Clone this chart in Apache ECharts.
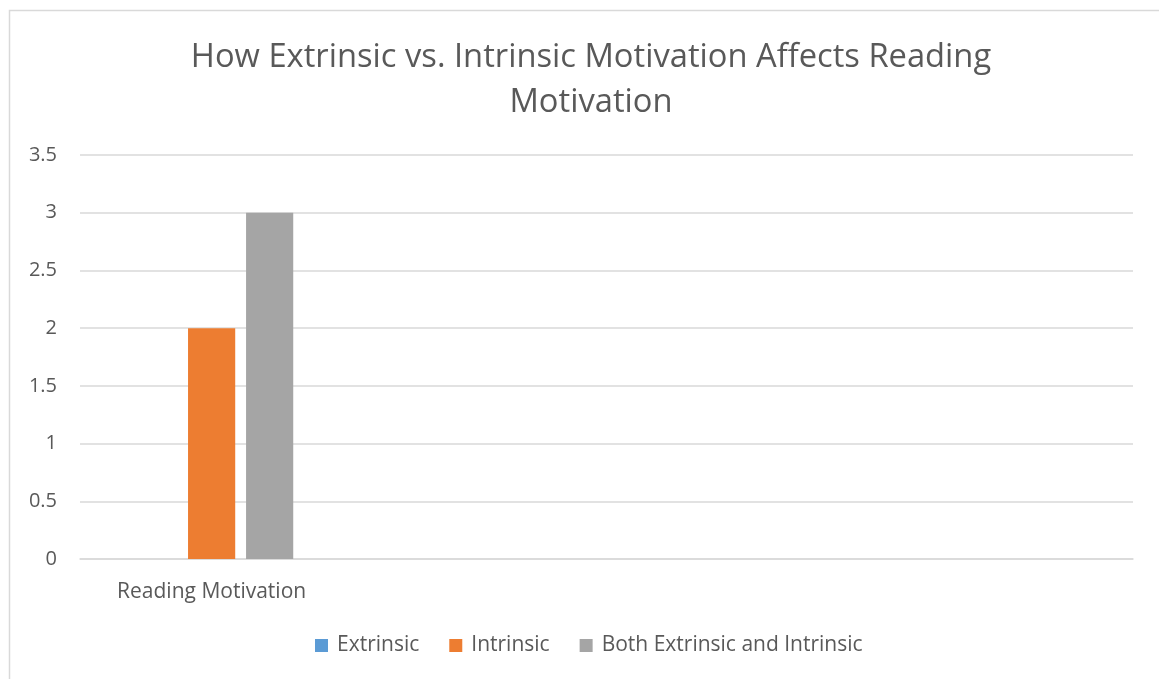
<!DOCTYPE html>
<html>
<head>
<meta charset="utf-8">
<script src="https://cdn.jsdelivr.net/npm/echarts@6/dist/echarts.min.js"></script>
<style>
  html, body { margin: 0; padding: 0; background: #fff; }
  #chart { width: 1159px; height: 679px; }
</style>
</head>
<body>
<div id="chart"></div>
<script>
// Chart data
const categories = ['Reading Motivation', '', '', ''];
const seriesNames = ['Extrinsic', 'Intrinsic', 'Both Extrinsic and Intrinsic'];
const extrinsic = [0, null, null, null];
const intrinsic = [2, null, null, null];
const both = [3, null, null, null];
const yTicks = { min: 0, max: 3.5, interval: 0.5 };

const colors = ['#5b9bd5', '#ed7d31', '#a5a5a5'];
const textColor = '#595959';
const fontFamily = '"Open Sans", "Liberation Sans", sans-serif';

const chart = echarts.init(document.getElementById('chart'));
chart.setOption({
  animation: false,
  color: colors,
  textStyle: { fontFamily: fontFamily, color: textColor },
  graphic: [{
    type: 'rect',
    shape: { x: 9.5, y: 10.5, width: 1200, height: 700 },
    style: { fill: 'none', stroke: '#d9d9d9', lineWidth: 1.5 },
    silent: true
  }],
  title: {
    text: 'How Extrinsic vs. Intrinsic Motivation Affects Reading\nMotivation',
    left: 586,
    textAlign: 'center',
    top: 30,
    textStyle: {
      fontFamily: fontFamily,
      fontWeight: 'normal',
      fontSize: 32.7,
      lineHeight: 45,
      color: textColor
    }
  },
  legend: {
    bottom: 18,
    left: 310,
    itemWidth: 13,
    itemHeight: 13,
    itemGap: 30,
    icon: 'rect',
    textStyle: { fontSize: 21, color: textColor, fontFamily: fontFamily, padding: [0, 0, 0, 4] },
    data: seriesNames
  },
  grid: { left: 80, right: 26, top: 155, bottom: 120, containLabel: false },
  xAxis: {
    type: 'category',
    data: categories,
    axisLine: { lineStyle: { color: '#d9d9d9', width: 1.5 } },
    axisTick: { show: false },
    axisLabel: { fontSize: 21, color: textColor, margin: 23, interval: 0 }
  },
  yAxis: {
    type: 'value',
    min: yTicks.min,
    max: yTicks.max,
    interval: yTicks.interval,
    axisLine: { show: false },
    axisTick: { show: false },
    splitLine: { lineStyle: { color: '#d9d9d9', width: 1.5 } },
    axisLabel: { fontSize: 20, color: textColor, margin: 23 }
  },
  series: [
    { name: seriesNames[0], type: 'bar', data: extrinsic, barGap: '23%', barCategoryGap: '38%' },
    { name: seriesNames[1], type: 'bar', data: intrinsic, barGap: '23%', barCategoryGap: '38%' },
    { name: seriesNames[2], type: 'bar', data: both, barGap: '23%', barCategoryGap: '38%' }
  ]
});
</script>
</body>
</html>
